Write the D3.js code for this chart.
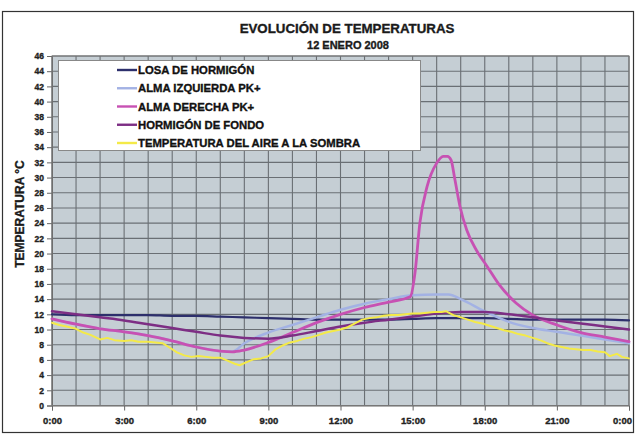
<!DOCTYPE html>
<html>
<head>
<meta charset="utf-8">
<script src="https://cdn.jsdelivr.net/npm/d3@7"></script>
<style>
  html, body { margin: 0; padding: 0; background: #ffffff; }
  svg { display: block; font-family: "Liberation Sans", Arial, sans-serif; }
  svg text { stroke-width: 0.35px; paint-order: stroke; }
</style>
</head>
<body>
<svg id="chart" width="636" height="436"></svg>
<script>
// ---------- DATA ----------
const title = "EVOLUCIÓN DE TEMPERATURAS";
const subtitle = "12 ENERO 2008";
const yTitle = "TEMPERATURA °C";
const seriesNames = ["LOSA DE HORMIGÓN", "ALMA IZQUIERDA PK+", "ALMA DERECHA PK+", "HORMIGÓN DE FONDO", "TEMPERATURA DEL AIRE A LA SOMBRA"];
const xTickHours = [0, 3, 6, 9, 12, 15, 18, 21, 24];
const xTickLabels = ["0:00", "3:00", "6:00", "9:00", "12:00", "15:00", "18:00", "21:00", "0:00"];
const yTicks = [0,2,4,6,8,10,12,14,16,18,20,22,24,26,28,30,32,34,36,38,40,42,44,46];

const losaHours = [0,1,2,3,4,5,6,7,8,9,10,11,12,13,14,15,16,17,18,19,20,21,22,23,24];
const losaValues = [12.0,11.9,11.9,11.9,11.9,11.8,11.8,11.7,11.6,11.5,11.4,11.3,11.3,11.3,11.3,11.4,11.5,11.5,11.5,11.4,11.3,11.3,11.3,11.3,11.2];

const izqHours = [0,1,2,3,4,5,6,7,7.5,8,9,10,11,12,13,14,15,16,16.5,17,18,19,20,21,22,23,24];
const izqValues = [11.4,10.7,10.1,9.7,9.2,8.5,7.7,7.15,7.1,8.2,9.6,10.6,11.6,12.6,13.4,14.0,14.5,14.6,14.6,14.0,12.4,11.0,10.2,9.7,9.2,8.7,8.2];

const derHours = [0,1,2,3,4,5,6,7,7.5,8,9,10,11,12,13,14,14.9,15.1,15.3,15.6,16.0,16.27,16.45,16.6,16.76,16.97,17.25,17.66,18.1,18.6,19.3,20,21,22,23,24];
const derValues = [11.4,10.7,10.1,9.7,9.2,8.5,7.7,7.15,7.05,7.3,8.3,9.6,10.9,12.0,12.9,13.6,14.3,17.5,24.0,28.8,31.9,32.8,32.8,32.3,29.7,26.2,23.1,20.4,18.3,15.9,13.5,11.9,10.6,9.6,9.0,8.4];

const fondoHours = [0,1,2,3,4,5,6,7,8,9,10,11,12,13,14,15,16,17,18,19,20,21,22,23,24];
const fondoValues = [12.4,12.0,11.6,11.2,10.7,10.2,9.7,9.2,8.9,8.8,9.2,9.8,10.4,10.9,11.3,11.7,12.1,12.3,12.3,12.0,11.6,11.2,10.8,10.4,10.0];

const aireHours = [0,0.3,0.6,1.0,1.3,1.6,2.0,2.3,2.6,3.0,3.3,3.6,4.0,4.3,4.6,4.9,5.2,5.5,5.8,6.1,6.4,6.7,7.0,7.3,7.6,7.8,8.1,8.4,8.7,9.0,9.3,9.6,9.9,10.2,10.5,10.8,11.1,11.4,11.7,12.0,12.3,12.6,12.9,13.2,13.5,13.8,14.1,14.4,14.7,15.0,15.3,15.6,15.9,16.2,16.4,16.7,17.0,17.3,17.6,17.9,18.2,18.5,18.8,19.1,19.4,19.7,20.0,20.3,20.6,20.9,21.2,21.5,21.8,22.1,22.4,22.7,23.0,23.2,23.5,23.7,24.0];
const aireValues = [10.9,10.6,10.4,10.1,9.6,9.3,8.7,8.9,8.6,8.5,8.6,8.4,8.4,8.3,8.2,7.6,7.0,6.6,6.4,6.5,6.4,6.3,6.3,5.9,5.5,5.3,5.7,6.1,6.2,6.5,7.4,7.9,8.3,8.5,8.8,9.0,9.3,9.6,9.8,10.0,10.3,10.8,11.3,11.5,11.6,11.8,11.9,11.9,12.0,12.1,12.1,12.2,12.3,12.3,12.4,11.9,11.6,11.3,11.0,10.8,10.5,10.2,9.9,9.7,9.4,9.2,8.9,8.6,8.2,7.9,7.7,7.5,7.4,7.3,7.3,7.1,7.0,6.5,6.8,6.4,6.2];

// ---------- LAYOUT ----------
const svg = d3.select("#chart");
const plot = { left: 52, right: 629, top: 56, bottom: 405.5 };

const x = d3.scaleLinear().domain([0, 24]).range([plot.left, plot.right]);
const y = d3.scaleLinear().domain([0, 46]).range([plot.bottom, plot.top]);

// outer frame
svg.append("rect").attr("x", 2.5).attr("y", 11.5).attr("width", 631).attr("height", 421)
  .attr("fill", "#ffffff").attr("stroke", "#333").attr("stroke-width", 1.2);

// plot background
svg.append("rect").attr("x", plot.left).attr("y", plot.top)
  .attr("width", plot.right - plot.left).attr("height", plot.bottom - plot.top)
  .attr("fill", "#c5ced4");

// grid
const gridG = svg.append("g");
gridG.selectAll("line.v").data(d3.range(0, 25)).join("line")
  .attr("x1", d => x(d)).attr("x2", d => x(d))
  .attr("y1", plot.top).attr("y2", plot.bottom)
  .attr("stroke", "#6a6f74").attr("stroke-width", 1.1);
gridG.selectAll("line.h").data(yTicks).join("line")
  .attr("x1", plot.left).attr("x2", plot.right)
  .attr("y1", d => y(d)).attr("y2", d => y(d))
  .attr("stroke", "#6a6f74").attr("stroke-width", 1.1);

// axes
const font = "'Liberation Sans', Arial, sans-serif";
const yAxis = d3.axisLeft(y).tickValues(yTicks).tickSize(5).tickPadding(3);
const yg = svg.append("g").attr("transform", `translate(${plot.left},0)`).call(yAxis);
yg.select(".domain").attr("stroke", "#666");
yg.selectAll(".tick line").attr("stroke", "#666");
yg.selectAll("text").attr("font-size", 8.5).attr("font-weight", "bold").attr("fill", "#222")
  .attr("stroke", "#222").attr("font-family", font);

const xAxis = d3.axisBottom(x).tickValues(xTickHours).tickSize(5).tickPadding(7)
  .tickFormat((d, i) => xTickLabels[i]);
const xg = svg.append("g").attr("transform", `translate(0,${plot.bottom})`).call(xAxis);
xg.select(".domain").attr("stroke", "#666");
xg.selectAll(".tick line").attr("stroke", "#666");
xg.selectAll("text").attr("font-size", 9.5).attr("font-weight", "bold").attr("fill", "#222")
  .attr("stroke", "#222").attr("font-family", font)
  .attr("dx", (d, i) => i === xTickHours.length - 1 ? -7 : 0);

// plot border
svg.append("rect").attr("x", plot.left).attr("y", plot.top)
  .attr("width", plot.right - plot.left).attr("height", plot.bottom - plot.top)
  .attr("fill", "none").attr("stroke", "#777").attr("stroke-width", 1);

// titles
svg.append("text").attr("x", 347).attr("y", 33).attr("text-anchor", "middle")
  .attr("font-size", 13.3).attr("font-weight", "bold").attr("fill", "#1a1a1a").attr("stroke", "#1a1a1a").text(title);
svg.append("text").attr("x", 348).attr("y", 48.5).attr("text-anchor", "middle")
  .attr("font-size", 11).attr("font-weight", "bold").attr("fill", "#1a1a1a").attr("stroke", "#1a1a1a").text(subtitle);
svg.append("text").attr("transform", "translate(24,214) rotate(-90)").attr("text-anchor", "middle")
  .attr("font-size", 12).attr("font-weight", "bold").attr("fill", "#1a1a1a").attr("stroke", "#1a1a1a").text(yTitle);

// series
const colors = ["#2d2f6c", "#a3b2e4", "#c751b3", "#7d2e84", "#f4ea48"];
const widths = [2.2, 2.5, 2.8, 2.5, 2];
const seriesData = [
  losaHours.map((h, i) => [h, losaValues[i]]),
  izqHours.map((h, i) => [h, izqValues[i]]),
  derHours.map((h, i) => [h, derValues[i]]),
  fondoHours.map((h, i) => [h, fondoValues[i]]),
  aireHours.map((h, i) => [h, aireValues[i]])
];
const smooth = d3.line().x(d => x(d[0])).y(d => y(d[1])).curve(d3.curveMonotoneX);
const jag = d3.line().x(d => x(d[0])).y(d => y(d[1])).curve(d3.curveLinear);

seriesData.forEach((s, i) => {
  svg.append("path").datum(s)
    .attr("d", i === 4 ? jag : smooth)
    .attr("fill", "none").attr("stroke", colors[i]).attr("stroke-width", widths[i])
    .attr("stroke-linejoin", "round").attr("stroke-linecap", "round");
});

// legend
const lg = svg.append("g");
lg.append("rect").attr("x", 58.5).attr("y", 60.5).attr("width", 362).attr("height", 90)
  .attr("fill", "#ffffff").attr("stroke", "#888").attr("stroke-width", 1);
const legendY = d3.scalePoint().domain(seriesNames).range([70, 143]);
seriesNames.forEach((name, i) => {
  const yy = legendY(name);
  lg.append("line").attr("x1", 117).attr("x2", 137).attr("y1", yy).attr("y2", yy)
    .attr("stroke", colors[i]).attr("stroke-width", 2.4);
  lg.append("text").attr("x", 138).attr("y", yy + 4)
    .attr("font-size", 11.3).attr("font-weight", "bold").attr("fill", "#111").attr("stroke", "#111").text(name);
});
</script>
</body>
</html>
